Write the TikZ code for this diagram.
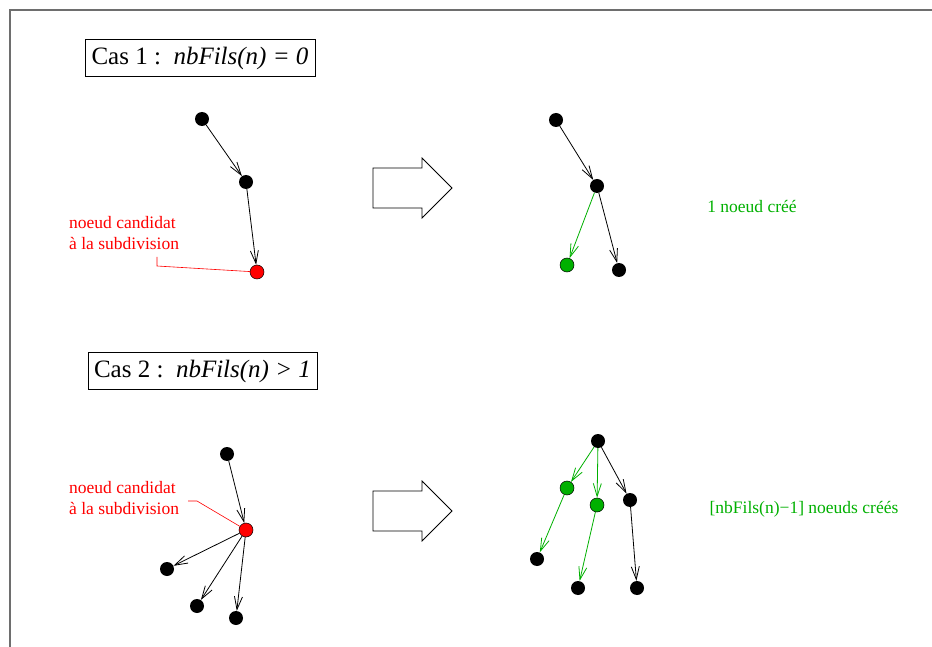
\documentclass[tikz,border=0pt]{standalone}
\usepackage{fontspec}
\setmainfont{Liberation Serif}
\usetikzlibrary{arrows.meta}
\definecolor{vert}{RGB}{0,176,0}
\definecolor{cadre}{RGB}{110,110,110}

\begin{document}
\begin{tikzpicture}[x=1pt,y=-1pt,
	noeud/.style={circle,fill=black,inner sep=0pt,minimum size=14pt},
	cand/.style={noeud,draw=black,fill=red,line width=0.5pt},
	cree/.style={noeud,draw=black,fill=vert,line width=0.5pt},
	titre/.style={draw,line width=0.8pt,inner sep=2pt,minimum height=37pt,font=\fontsize{25}{30}\selectfont},
	petit/.style={inner sep=0pt,align=left,font=\fontsize{17.5}{20.5}\selectfont},
	fl/.style={-{Straight Barb[length=13pt,width=8pt]},line width=0.8pt}]
	\useasboundingbox (0,0) rectangle (932,647);
	\draw[cadre,line width=1.5pt] (932,10) -- (10,10) -- (10,647);
	% cas 1
	\node[titre,minimum width=230pt] (t1) at (200,58) {Cas 1 :\ \ \textit{nbFils(n) = 0}};
	\node[noeud] (a1) at (202,119) {};
	\node[noeud] (b1) at (246,182) {};
	\node[cand] (c1) at (257,272) {};
	\path[fl]
	(a1) edge (b1)
	(b1) edge (c1);
	\node[petit,red,anchor=west] (l1) at (69,233) {noeud candidat\\à la subdivision};
	\coordinate (l1a) at (157,257);
	\coordinate (l1b) at (157,266);
	\draw[red,line width=0.6pt] (l1a) -- (l1b) -- (c1);
	\node[noeud] (a1') at (556,120) {};
	\node[noeud] (b1') at (597,186) {};
	\node[cree] (v1') at (567,265) {};
	\node[noeud] (d1') at (619,270) {};
	\path[fl]
	(a1') edge (b1')
	(b1') edge (d1');
	\path[fl,vert]
	(b1') edge (v1');
	\node[petit,vert] (r1) at (752,207) {1 noeud créé};
	% cas 2
	\node[titre,minimum width=229pt] (t2) at (202.5,371) {Cas 2 :\ \ \textit{nbFils(n) > 1}};
	\node[noeud] (a2) at (227,454) {};
	\node[cand] (c2) at (246,530) {};
	\node[noeud] (f1) at (167,569) {};
	\node[noeud] (f2) at (197,606) {};
	\node[noeud] (f3) at (236,618) {};
	\path[fl]
	(a2) edge (c2)
	(c2) edge (f1)
	(c2) edge (f2)
	(c2) edge (f3);
	\node[petit,red,anchor=west] (l2) at (69,498) {noeud candidat\\à la subdivision};
	\coordinate (l2a) at (188,501);
	\coordinate (l2b) at (197,501);
	\draw[red,line width=0.6pt] (l2a) -- (l2b) -- (c2);
	\node[noeud] (a2') at (598,441) {};
	\node[cree] (v2') at (567,488) {};
	\node[cree] (w2') at (597,505) {};
	\node[noeud] (b2') at (630,500) {};
	\node[noeud] (f1') at (537,559) {};
	\node[noeud] (f2') at (578,588) {};
	\node[noeud] (f3') at (637,588) {};
	\path[fl]
	(a2') edge (b2')
	(b2') edge (f3');
	\path[fl,vert]
	(a2') edge (v2')
	(a2') edge (w2')
	(v2') edge (f1')
	(w2') edge (f2');
	\node[petit,vert] (r2) at (804,509) {[nbFils(n)−1] noeuds créés};
	% fleches
	\foreach \y in {188,511}
	\draw[line width=0.8pt] (373,\y-20) -- (422,\y-20) -- (422,\y-30) -- (452,\y)
	-- (422,\y+30) -- (422,\y+20) -- (373,\y+20) -- cycle;
\end{tikzpicture}
\end{document}
